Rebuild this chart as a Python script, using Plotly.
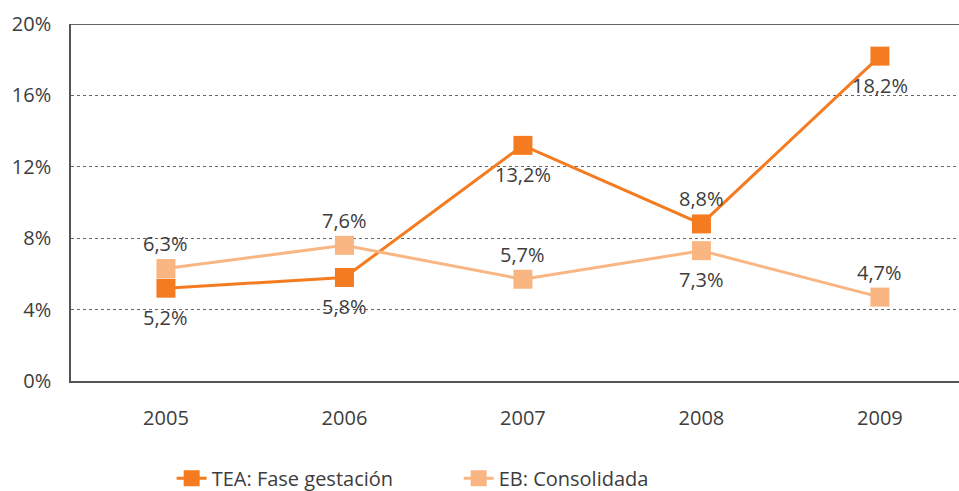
import plotly.graph_objects as go

years = ["2005", "2006", "2007", "2008", "2009"]
tea = [5.2, 5.8, 13.2, 8.8, 18.2]
eb = [6.3, 7.6, 5.7, 7.3, 4.7]
tea_side = [-1, -1, -1, 1, -1]   # +1 label above the point, -1 below
eb_side = [1, 1, 1, -1, 1]
y_ticks = [0, 4, 8, 12, 16, 20]

FONT = "Open Sans, DejaVu Sans, sans-serif"
TXT = "#3d3d3d"
C_TEA = "#F47B20"
C_EB = "#F9B683"


def fmt(v):
    return f"{v:.1f}".replace(".", ",") + "%"


fig = go.Figure()
fig.add_trace(go.Scatter(
    x=years, y=tea, name="TEA: Fase gestación", mode="lines+markers",
    line=dict(color=C_TEA, width=3),
    marker=dict(symbol="square", size=19, color=C_TEA),
))
fig.add_trace(go.Scatter(
    x=years, y=eb, name="EB: Consolidada", mode="lines+markers",
    line=dict(color=C_EB, width=3),
    marker=dict(symbol="square", size=19, color=C_EB),
))

# value labels next to each point (category index used for x position)
for vals, sides in ((tea, tea_side), (eb, eb_side)):
    for i, (v, s) in enumerate(zip(vals, sides)):
        fig.add_annotation(x=i, y=v, text=fmt(v), showarrow=False,
                           yshift=25 if s > 0 else -29,
                           font=dict(size=20, color=TXT, family=FONT))

# solid frame line along the top of the plotting area
fig.add_shape(type="line", xref="paper", yref="y", x0=0, x1=1, y0=20, y1=20,
              line=dict(color="#333333", width=1.5))

fig.update_layout(
    width=959, height=491,
    margin=dict(l=71, r=0, t=24, b=110),
    paper_bgcolor="white", plot_bgcolor="white",
    font=dict(family=FONT, size=20, color=TXT),
    showlegend=True,
    legend=dict(orientation="h", xref="container", x=0.179, xanchor="left",
                yref="container", y=0.026, yanchor="middle",
                font=dict(size=20, color=TXT, family=FONT),
                traceorder="normal", entrywidth=242, entrywidthmode="pixels"),
)
fig.update_xaxes(
    type="category", range=[-0.532, 4.443],
    showgrid=False, showline=True, linecolor="#555555", linewidth=1.5,
    ticks="", tickfont=dict(size=20, color=TXT), ticklabelstandoff=18,
)
fig.update_yaxes(
    range=[0, 20], tickvals=y_ticks, ticktext=[f"{v}%" for v in y_ticks],
    showgrid=True, gridcolor="#666666", griddash="dot", gridwidth=1,
    showline=True, linecolor="#555555", linewidth=1.5, zeroline=False,
    ticks="", tickfont=dict(size=20, color=TXT), ticklabelstandoff=14,
)

fig.write_html("out.html")
